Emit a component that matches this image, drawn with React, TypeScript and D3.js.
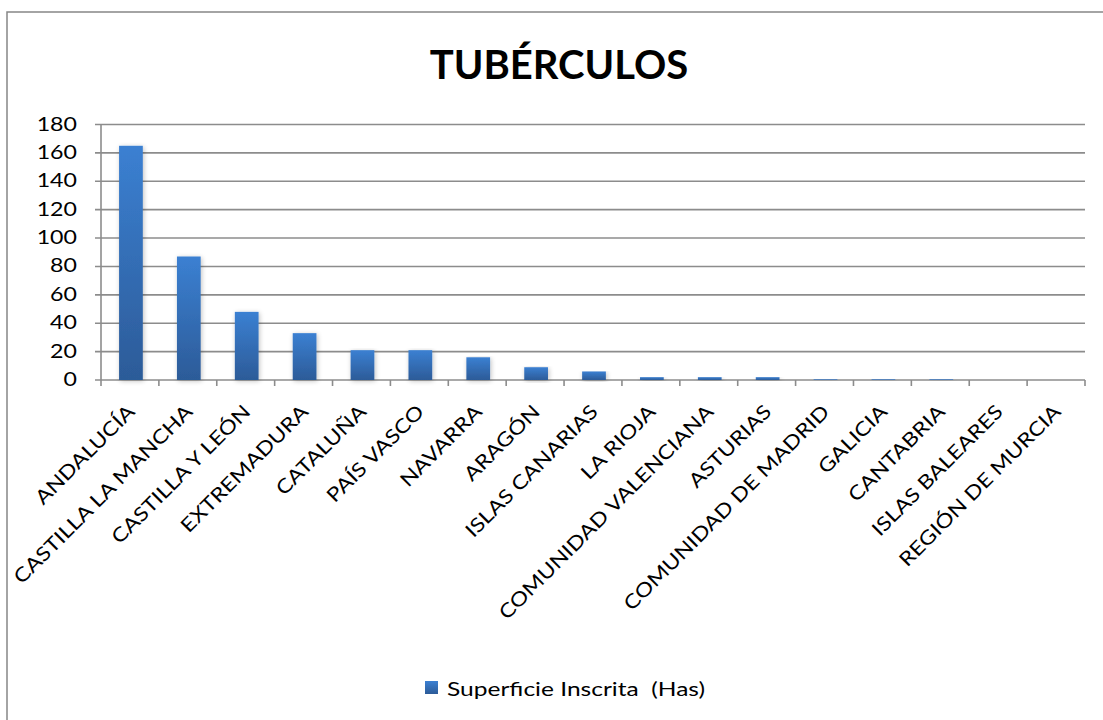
import React from "react";
import * as d3 from "d3";

const categories = [
  "ANDALUCÍA", "CASTILLA LA MANCHA", "CASTILLA Y LEÓN", "EXTREMADURA", "CATALUÑA",
  "PAÍS VASCO", "NAVARRA", "ARAGÓN", "ISLAS CANARIAS", "LA RIOJA",
  "COMUNIDAD VALENCIANA", "ASTURIAS", "COMUNIDAD DE MADRID", "GALICIA", "CANTABRIA",
  "ISLAS BALEARES", "REGIÓN DE MURCIA",
];
const values = [165, 87, 48, 33, 21, 21, 16, 9, 6, 2, 2, 2, 0.5, 0.5, 0.5, 0, 0];
const yTicks = [0, 20, 40, 60, 80, 100, 120, 140, 160, 180];
const seriesName = "Superficie Inscrita  (Has)";
const title = "TUBÉRCULOS";

const W = 1103, H = 720;
const left = 101, right = 1085, top = 124.5, bottom = 380;
const font = "Lato, 'Open Sans', sans-serif";

export default function App() {
  const x = d3.scaleBand<string>().domain(categories).range([left, right]).paddingInner(0).paddingOuter(0);
  const y = d3.scaleLinear().domain([0, 180]).range([bottom, top]);
  const bw = x.bandwidth() * 0.41;
  return (
    <svg width={W} height={H} style={{ position: "absolute", left: 0, top: 0 }}>
      <defs>
        <linearGradient id="barg" x1="0" y1="0" x2="0" y2="1">
          <stop offset="0" stopColor="#3b80d2" />
          <stop offset="1" stopColor="#2c5b98" />
        </linearGradient>
        <filter id="sh" x="-50%" y="-10%" width="200%" height="130%">
          <feGaussianBlur in="SourceAlpha" stdDeviation="2.5" />
          <feOffset dx="1" dy="1" result="b" />
          <feComponentTransfer><feFuncA type="linear" slope="0.25" /></feComponentTransfer>
          <feMerge><feMergeNode /><feMergeNode in="SourceGraphic" /></feMerge>
        </filter>
      </defs>
      <rect x={0} y={0} width={W} height={H} fill="#fff" />
      <rect x={7} y={12} width={W + 10} height={H + 10} fill="none" stroke="#868686" strokeWidth={1.5} />
      <text x={559} y={79} textAnchor="middle" fontFamily={font} fontWeight="bold" fontSize={40} fill="#000">{title}</text>
      {yTicks.map((t) => (
        <g key={t}>
          <line x1={left - 6} x2={right} y1={y(t)} y2={y(t)} stroke="#8c8c8c" strokeWidth={1.6} />
          <text transform={`translate(77,${y(t) + 6}) scale(1.22,1)`} textAnchor="end" fontFamily={font} fontSize={19} fill="#000">{t}</text>
        </g>
      ))}
      <line x1={left} x2={left} y1={top} y2={bottom + 6} stroke="#8c8c8c" strokeWidth={1.6} />
      {categories.map((c, i) => (
        <line key={"t" + i} x1={x(c)! + x.bandwidth()} x2={x(c)! + x.bandwidth()} y1={bottom} y2={bottom + 6} stroke="#8c8c8c" strokeWidth={1.6} />
      ))}
      {categories.map((c, i) => {
        const cx = x(c)! + x.bandwidth() / 2;
        const h = bottom - y(values[i]);
        return h > 0 ? (
          <rect key={"b" + i} x={cx - bw / 2 + 1} y={y(values[i])} width={bw} height={h} fill="url(#barg)" filter="url(#sh)" />
        ) : null;
      })}
      {categories.map((c, i) => {
        const cx = x(c)! + x.bandwidth() / 2;
        return (
          <text key={"l" + i} transform={`translate(${cx + 6},${bottom + 33}) rotate(-45) scale(1.18,1)`} textAnchor="end" fontFamily={font} fontSize={19.5} fill="#000">{c}</text>
        );
      })}
      <rect x={425} y={681} width={13} height={13} fill="url(#barg)" />
      <text x={447} y={696} fontFamily={font} fontSize={18.5} fill="#000" textLength={258} lengthAdjust="spacingAndGlyphs" style={{ whiteSpace: "pre" }}>{seriesName}</text>
    </svg>
  );
}
